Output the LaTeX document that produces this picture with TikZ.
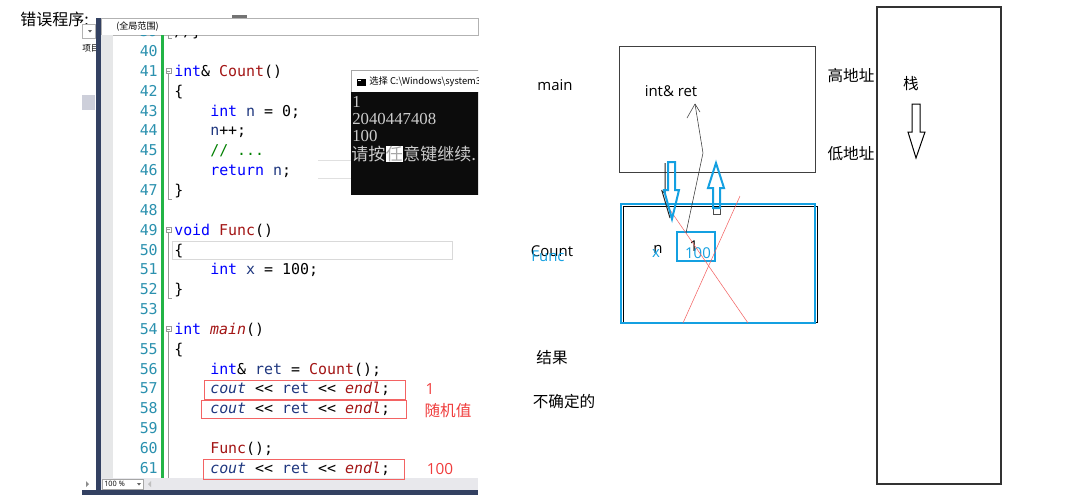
\documentclass[tikz,border=0pt]{standalone}
\usepackage{fontspec}
\setmonofont{DejaVu Sans Mono}
\newfontfamily\cjk{Noto Sans CJK SC}
\newfontfamily\lat{Open Sans}
\newfontfamily\conserif{Liberation Serif}
\definecolor{kw}{RGB}{0,0,255}
\definecolor{fn}{RGB}{163,21,21}
\definecolor{vr}{RGB}{31,55,127}
\definecolor{cm}{RGB}{0,128,0}
\definecolor{lnc}{RGB}{43,145,175}
\definecolor{navy}{RGB}{51,65,98}
\definecolor{marg}{RGB}{230,231,232}
\definecolor{grn}{RGB}{34,180,70}
\definecolor{redc}{RGB}{240,60,60}
\definecolor{blu}{RGB}{20,160,225}
\definecolor{congray}{RGB}{204,204,204}
\definecolor{panelgray}{RGB}{205,207,218}
\definecolor{scrollgray}{RGB}{232,232,236}
\definecolor{conblack}{RGB}{12,12,12}
\newcommand{\kw}[1]{\textcolor{kw}{#1}}
\newcommand{\fnn}[1]{\textcolor{fn}{#1}}
\newcommand{\vr}[1]{\textcolor{vr}{#1}}
\newcommand{\itf}[1]{\textcolor{fn}{\itshape #1}}
\newcommand{\itv}[1]{\textcolor{vr}{\itshape #1}}
\newcommand{\codeln}[3]{\node[code] (cl#1) at ({174+9*#2},{56.5+19.85*(#1-40)}) {#3};}
\begin{document}
\begin{tikzpicture}[x=0.75pt,y=-0.75pt,
  code/.style={anchor=base west,inner sep=0pt,font=\ttfamily\fontsize{11.2}{13}\selectfont},
  lnum/.style={anchor=base east,inner sep=0pt,text=lnc,font=\ttfamily\fontsize{11.2}{13}\selectfont},
  fold/.style={draw=black!40,line width=0.5pt},
  redbox/.style={draw=redc!80,line width=0.75pt},
  redlbl/.style={inner sep=0pt,text=redc,font=\cjk\fontsize{11.7}{13}\selectfont},
  lbl/.style={inner sep=0pt,font=\lat\fontsize{11.2}{13}\selectfont},
  zh/.style={inner sep=0pt,font=\cjk\fontsize{11.7}{13}\selectfont},
  contxt/.style={anchor=west,inner sep=0pt,text=congray,font=\conserif\fontsize{12.6}{14}\selectfont},
  conzh/.style={anchor=west,inner sep=0pt,text=congray,font=\cjk\fontsize{12.75}{14}\selectfont},
  hollow/.style={draw=blu,line width=1.5pt,line join=miter},
  shadow/.style={draw=black!85,line width=0.75pt}
]
\useasboundingbox (0,0) rectangle (1065,501);
\fill[white] (0,0) rectangle (1065,501);

% ---------- title ----------
\node[zh,anchor=west,font=\cjk\fontsize{12}{14}\selectfont] (title) at (20,19) {错误程序:};

% ---------- IDE frame ----------
\fill[black!55] (232,15) rectangle (247,18);
\draw[black!30,fill=white] (82,24) rectangle (95,38);
\fill[black!60] (88,30) -- (92,30) -- (90,32.5) -- cycle;
\begin{scope}
  \clip (82,40) rectangle (95,58);
  \node[anchor=west,inner sep=0pt,font=\cjk\fontsize{6.5}{8}\selectfont] (proj) at (82,48) {项目};
\end{scope}
\fill[panelgray] (82,95) rectangle (95,110);
\fill[navy] (96,18) rectangle (101,490);
\draw[black!30,fill=white] (101,18) rectangle (478,35);
\node[anchor=west,inner sep=0pt,font=\cjk\fontsize{6.8}{8}\selectfont] (scope) at (116,27) {(全局范围)};
\fill[marg] (101,35) rectangle (113,478);
\fill[grn] (161,35) rectangle (164,478);

\begin{scope}
  \clip (113,35) rectangle (478,478);
  \foreach \i in {39,...,61} \node[lnum] (ln\i) at (158,{56.5+19.85*(\i-40)}) {\i};
  \draw[black!15,line width=0.75pt] (172,241) rectangle (452,259);
  \draw[fold] (168.5,30) -- (168.5,38.5) -- (172,38.5);
  \foreach \k/\e in {41/47,49/52,54/63}{
    \draw[fold,fill=white] (166,{51+19.85*(\k-40)-2.5}) rectangle (171,{51+19.85*(\k-40)+2.5});
    \draw[fold] (167,{51+19.85*(\k-40)}) -- (170,{51+19.85*(\k-40)});
    \draw[fold] (168.5,{51+19.85*(\k-40)+2.5}) -- (168.5,{51+19.85*(\e-40)+9}) -- (172,{51+19.85*(\e-40)+9});
  }
  \codeln{39}{0}{//\}}
  \codeln{41}{0}{\kw{int}\&\ \fnn{Count}()}
  \codeln{42}{0}{\{}
  \codeln{43}{4}{\kw{int} \vr{n} = 0;}
  \codeln{44}{4}{\vr{n}++;}
  \codeln{45}{4}{\textcolor{cm}{// ...}}
  \codeln{46}{4}{\kw{return} \vr{n};}
  \codeln{47}{0}{\}}
  \codeln{49}{0}{\kw{void} \fnn{Func}()}
  \codeln{50}{0}{\{}
  \codeln{51}{4}{\kw{int} \vr{x} = 100;}
  \codeln{52}{0}{\}}
  \codeln{54}{0}{\kw{int} \itf{main}()}
  \codeln{55}{0}{\{}
  \codeln{56}{4}{\kw{int}\&\ \vr{ret} = \fnn{Count}();}
  \codeln{57}{4}{\itv{cout} <{}< \vr{ret} <{}< \itf{endl};}
  \codeln{58}{4}{\itv{cout} <{}< \vr{ret} <{}< \itf{endl};}
  \codeln{60}{4}{\fnn{Func}();}
  \codeln{61}{4}{\itv{cout} <{}< \vr{ret} <{}< \itf{endl};}
  \draw[black!12,line width=0.75pt] (318,160) -- (351,160);
  \draw[black!12,line width=0.75pt] (318,178) -- (351,178);
\end{scope}

% scroll bar and bottom bar
\fill[scrollgray] (101,478) rectangle (478,490);
\fill[black!45] (86,481) -- (89,484) -- (86,487) -- cycle;
\draw[black!35,fill=white] (102,479) rectangle (143,489.5);
\node[anchor=west,inner sep=0pt,font=\lat\fontsize{5.5}{6}\selectfont] (zoomlbl) at (104,484) {100 \%};
\fill[black!60] (137,483) -- (141,483) -- (139,485.5) -- cycle;
\fill[black!25] (151,481) -- (148,484) -- (151,487) -- cycle;
\fill[navy] (82,490) rectangle (478,495);

% red boxes and labels
\draw[redbox] (204,380) rectangle (405,399);
\draw[redbox] (201,400) rectangle (406,418);
\draw[redbox] (203,459) rectangle (404,479);
\node[redlbl,font=\lat\fontsize{11.5}{13}\selectfont] (r1) at (430,389) {1};
\node[redlbl] (r2) at (448,411) {随机值};
\node[redlbl,font=\lat\fontsize{11.5}{13}\selectfont] (r3) at (440,469) {100};

% ---------- console window ----------
\begin{scope}
  \clip (350,69) rectangle (478,196);
  \draw[black!35,fill=white] (351,70) rectangle (490,92);
  \fill[black] (357,79) rectangle (366,86);
  \fill[white] (358,80) rectangle (361,81);
  \node[anchor=west,inner sep=0pt,font=\cjk\fontsize{7}{8}\selectfont] (ctitle) at (369,82) {选择 C:\textbackslash Windows\textbackslash system32\textbackslash cmd.exe};
  \fill[conblack] (351,92) rectangle (490,195);
  \node[contxt] (o1) at (352,102) {1};
  \node[contxt] (o2) at (352,119) {2040447408};
  \node[contxt] (o3) at (352,136) {100};
  \node[conzh] (o4a) at (351,154) {请按};
  \node[conzh,fill=white,text=black!35,anchor=west] (o4b) at (o4a.east) {任};
  \node[conzh,anchor=west] (o4c) at (o4b.east) {意键继续.};
\end{scope}

% ---------- right diagram ----------
\draw[black!80,line width=1.5pt] (877,7) rectangle (1001,484);
\node[zh] (zhan) at (911,84) {栈};
\draw[black,line width=0.75pt] (912,104) -- (920,104) -- (920,132) -- (925,132) -- (916,158) -- (908,132) -- (912,132) -- cycle;

\draw[black!75,line width=0.75pt] (619,46) rectangle (815,172);
\node[lbl] (main) at (555,85) {main};
\node[lbl] (ret) at (671,91) {int\& ret};
\node[zh] (hi) at (851,76) {高地址};
\node[zh] (lo) at (851,154) {低地址};

\draw[black,line width=0.75pt] (623,206) rectangle (817,322);
\draw[blu,line width=1.5pt] (621,204) rectangle (815,323);
\node[lbl] (count) at (552,251) {Count};
\node[lbl,text=blu] (func) at (548,256) {Func};
\node[lbl] (nlbl) at (658,249) {n};
\node[lbl,text=blu] (xlbl) at (656,253) {x};
\draw[blu,line width=1.5pt] (677,232) rectangle (715,261);
\node[lbl] (one) at (694,246) {1};
\node[lbl,text=blu] (hundred) at (698,253) {100};

% red cross
\draw[redc!80,line width=0.4pt] (668,207) -- (748,323);
\draw[redc!80,line width=0.4pt] (740,196) -- (683,323);

% thin pointer from n to ret
\coordinate (pa) at (686,233);
\coordinate (pb) at (703,153);
\coordinate (pc) at (695,104);
\draw[black!80,line width=0.4pt] (pa) -- (pb) -- (pc);
\draw[black!80,line width=0.4pt] (pc) -- (687,118);
\draw[black!80,line width=0.4pt] (pc) -- (700,112);

% hollow arrows (with shadows)
\draw[shadow] (665,163) -- (665,193) -- (662,191) -- (670,218);
\draw[hollow] (668,162) -- (675,162) -- (675,190) -- (679,190) -- (672,219) -- (664,190) -- (668,190) -- cycle;
\draw[black!70,line width=0.75pt] (713,208) -- (713,214) -- (720,214) -- (720,208);
\draw[hollow] (713,208) -- (720,208) -- (720,188) -- (724,188) -- (716,163) -- (708,188) -- (713,188) -- cycle;

\node[zh] (res) at (552,358) {结果};
\node[zh] (undef) at (564,402) {不确定的};
\end{tikzpicture}
\end{document}
